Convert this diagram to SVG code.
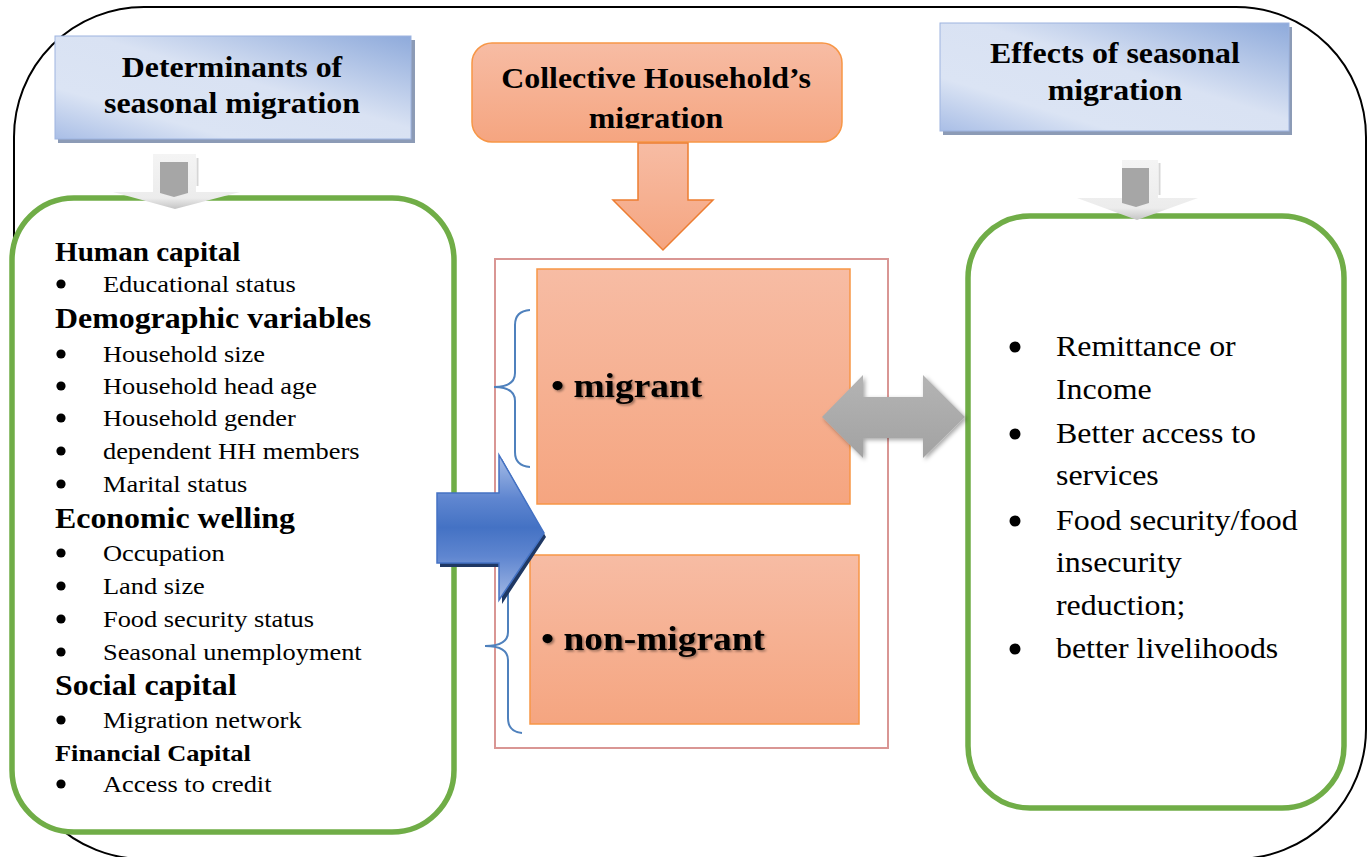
<svg xmlns="http://www.w3.org/2000/svg" width="1370" height="857" viewBox="0 0 1370 857">
<defs>
<linearGradient id="gBlueHdr" x1="1" y1="0" x2="0" y2="1">
<stop offset="0" stop-color="#8eaadb"/>
<stop offset="0.45" stop-color="#d9e2f3"/>
<stop offset="0.75" stop-color="#dbe4f4"/>
<stop offset="1" stop-color="#a9bee6"/>
</linearGradient>
<linearGradient id="gOrange" x1="0" y1="0" x2="0" y2="1">
<stop offset="0" stop-color="#f7bca4"/>
<stop offset="1" stop-color="#f5a580"/>
</linearGradient>
<linearGradient id="gBlueArrow" x1="0" y1="0" x2="0" y2="1">
<stop offset="0" stop-color="#a9bfe8"/>
<stop offset="0.3" stop-color="#5f86d0"/>
<stop offset="0.5" stop-color="#4472c4"/>
<stop offset="0.7" stop-color="#5f86d0"/>
<stop offset="1" stop-color="#a3b9e5"/>
</linearGradient>
<linearGradient id="gGray" x1="0" y1="0" x2="0" y2="1">
<stop offset="0" stop-color="#b4b4b4"/>
<stop offset="1" stop-color="#a2a2a2"/>
</linearGradient>
<linearGradient id="gLight" x1="0" y1="0" x2="0" y2="1">
<stop offset="0" stop-color="#f4f4f4"/>
<stop offset="0.8" stop-color="#ececec"/>
<stop offset="1" stop-color="#c4c4c4"/>
</linearGradient>
<filter id="softShadow" x="-20%" y="-20%" width="140%" height="140%">
<feDropShadow dx="2" dy="2" stdDeviation="2" flood-color="#000" flood-opacity="0.35"/>
</filter>
<filter id="textShadow" x="-10%" y="-20%" width="120%" height="140%">
<feDropShadow dx="1.5" dy="1.5" stdDeviation="1.2" flood-color="#000" flood-opacity="0.4"/>
</filter>
<clipPath id="clipCollective">
<rect x="472" y="43" width="370" height="85.5"/>
</clipPath>
</defs>
<style>
.serif{font-family:"Liberation Serif","Times New Roman",serif;fill:#000}
.b{font-weight:bold}
.hdr{font-size:29px;font-weight:bold;text-anchor:middle}
.item{font-size:24px}
.ritem{font-size:29px}
.green{fill:#fff;stroke:#70ad47;stroke-width:5.5}
.orangeBox{fill:url(#gOrange);stroke:#f79646;stroke-width:1.5}
.blueHdr{fill:url(#gBlueHdr);stroke:#9db4e0;stroke-width:1}
.hdrShadow{fill:#8c9bb6}
.brace{fill:none;stroke:#4f81bd;stroke-width:2}
.dot{fill:#000}
</style>
<rect width="1370" height="857" fill="#fff"/>
<g id="frame">
<rect x="14" y="7" width="1352" height="852" rx="130" ry="130" fill="none" stroke="#000" stroke-width="2"/>
</g>

<g id="determinants-header">
<rect class="hdrShadow" x="58" y="40" width="357" height="103"/>
<rect class="blueHdr" x="55" y="36" width="356" height="103"/>
<g transform="scale(1.1 1)" class="serif">
<text class="hdr" x="210.9" y="77">Determinants of</text>
<text class="hdr" x="210.9" y="113">seasonal migration</text>
</g>
</g>

<g id="effects-header">
<rect class="hdrShadow" x="943" y="27" width="349" height="108"/>
<rect class="blueHdr" x="940" y="23" width="349" height="108"/>
<g transform="scale(1.1 1)" class="serif">
<text class="hdr" x="1013.6" y="63">Effects of seasonal</text>
<text class="hdr" x="1013.6" y="100">migration</text>
</g>
</g>

<g id="collective-header">
<rect class="orangeBox" x="472" y="43" width="370" height="99" rx="20" ry="20" stroke="#ed7d31"/>
<g clip-path="url(#clipCollective)">
<g transform="scale(1.1 1)" class="serif">
<text class="hdr" x="596.4" y="88">Collective Household’s</text>
<text class="hdr" x="596.4" y="128">migration</text>
</g>
</g>
</g>

<g id="determinants-box">
<rect class="green" x="12" y="198" width="442" height="634" rx="62" ry="62"/>
<g class="dot">
<circle cx="61" cy="284" r="4.6"/>
<circle cx="61" cy="354" r="4.6"/>
<circle cx="61" cy="386" r="4.6"/>
<circle cx="61" cy="418" r="4.6"/>
<circle cx="61" cy="451" r="4.6"/>
<circle cx="61" cy="484" r="4.6"/>
<circle cx="61" cy="553" r="4.6"/>
<circle cx="61" cy="586" r="4.6"/>
<circle cx="61" cy="619" r="4.6"/>
<circle cx="61" cy="652" r="4.6"/>
<circle cx="61" cy="720" r="4.6"/>
<circle cx="61" cy="784" r="4.6"/>
</g>
<g transform="scale(1.1 1)" class="serif">
<text class="b" x="50" y="261" font-size="26.5">Human capital</text>
<text class="item" x="93.6" y="292">Educational status</text>
<text class="b" x="50" y="328" font-size="29">Demographic variables</text>
<text class="item" x="93.6" y="362">Household size</text>
<text class="item" x="93.6" y="394">Household head age</text>
<text class="item" x="93.6" y="426">Household gender</text>
<text class="item" x="93.6" y="459">dependent HH members</text>
<text class="item" x="93.6" y="492">Marital status</text>
<text class="b" x="50" y="528" font-size="29">Economic welling</text>
<text class="item" x="93.6" y="561">Occupation</text>
<text class="item" x="93.6" y="594">Land size</text>
<text class="item" x="93.6" y="627">Food security status</text>
<text class="item" x="93.6" y="660">Seasonal unemployment</text>
<text class="b" x="50" y="695" font-size="29">Social capital</text>
<text class="item" x="93.6" y="728">Migration network</text>
<text class="b" x="50" y="761" font-size="24">Financial Capital</text>
<text class="item" x="93.6" y="792">Access to credit</text>
</g>
</g>

<g id="effects-box">
<rect class="green" x="968" y="216" width="376" height="592" rx="62" ry="62"/>
<g class="dot">
<circle cx="1015" cy="347" r="5.5"/>
<circle cx="1015" cy="434" r="5.5"/>
<circle cx="1015" cy="521" r="5.5"/>
<circle cx="1015" cy="649" r="5.5"/>
</g>
<g transform="scale(1.1 1)" class="serif">
<text class="ritem" x="960" y="356">Remittance or</text>
<text class="ritem" x="960" y="399">Income</text>
<text class="ritem" x="960" y="443">Better access to</text>
<text class="ritem" x="960" y="485">services</text>
<text class="ritem" x="960" y="530">Food security/food</text>
<text class="ritem" x="960" y="572">insecurity</text>
<text class="ritem" x="960" y="615">reduction;</text>
<text class="ritem" x="960" y="658">better livelihoods</text>
</g>
</g>

<g id="household-types">
<rect x="495" y="259" width="393" height="489" fill="none" stroke="#d99694" stroke-width="2"/>
<path class="brace" d="M530,310 Q515,311 515,325 V373 Q515,387 494,387 Q515,387 515,401 V452 Q515,466 530,467"/>
<path class="brace" d="M522,560 Q508,561 508,575 V632 Q508,646 485,646 Q508,646 508,660 V718 Q508,732 522,733"/>
</g>

<g id="migrant">
<rect class="orangeBox" x="537" y="269" width="313" height="235"/>
<g transform="scale(1.1 1)" class="serif" filter="url(#textShadow)">
<text class="b" x="500.9" y="397" font-size="34">• migrant</text>
</g>
</g>

<g id="non-migrant">
<rect class="orangeBox" x="530" y="555" width="329" height="169"/>
<g transform="scale(1.1 1)" class="serif" filter="url(#textShadow)">
<text class="b" x="491.8" y="650" font-size="34">• non-migrant</text>
</g>
</g>

<g id="connectors">
<g id="arrow-left-down">
<path d="M153,154 H196 V192 H240 L175,209 L113,192 H153 Z" fill="url(#gLight)"/>
<path d="M160,162 H188 V193 L174,197 L160,193 Z" fill="#a6a6a6"/>
<line x1="197.5" y1="158" x2="197.5" y2="186" stroke="#d6d6d6" stroke-width="2"/>
</g>
<g id="arrow-right-down">
<path d="M1122,160 H1158 V198 H1198 L1137,220 L1077,198 H1122 Z" fill="url(#gLight)"/>
<path d="M1122,168 H1149 V203 L1136,207 L1122,203 Z" fill="#a6a6a6"/>
<line x1="1159.5" y1="163" x2="1159.5" y2="195" stroke="#d6d6d6" stroke-width="2"/>
</g>
<path id="arrow-collective-down" d="M638,143 H688 V200 H713 L663,250 L613,200 H638 Z" fill="url(#gOrange)" stroke="#ed7d31" stroke-width="1.5"/>
<g id="arrow-blue">
<path d="M440,497 H502 V459 L546,537 L502,604 V567 H440 Z" fill="#1f3864"/>
<path d="M437,493 H499 V455 L544,533 L499,600 V563 H437 Z" fill="url(#gBlueArrow)" stroke="#4472c4" stroke-width="1.5"/>
</g>
<path id="arrow-double" d="M822,417 L863,375 V397 H923 V375 L965,417 L923,458 V438 H863 V458 Z" fill="url(#gGray)" filter="url(#softShadow)"/>
</g>
</svg>
